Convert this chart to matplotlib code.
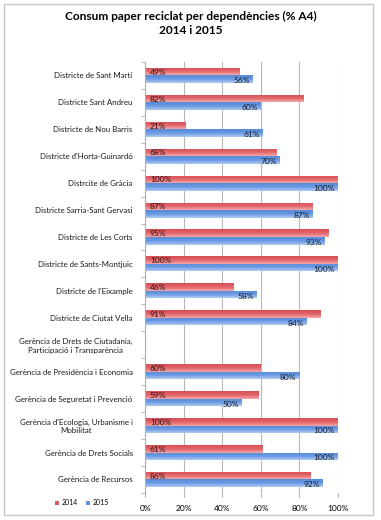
import numpy as np
import matplotlib.pyplot as plt
from matplotlib.patches import Rectangle
from matplotlib.colors import LinearSegmentedColormap

plt.rcParams['font.family'] = ['Lato', 'DejaVu Sans']

# Dades
categories = [
    "Districte de Sant Martí",
    "Districte Sant Andreu",
    "Districte de Nou Barris",
    "Districte d'Horta-Guinardó",
    "Distrcite de Gràcia",
    "Districte Sarria-Sant Gervasi",
    "Districte de Les Corts",
    "Districte de Sants-Montjuic",
    "Districte de l'Eixample",
    "Districte de Ciutat Vella",
    "Gerència de Drets de Ciutadania,\nParticipació i Transparència",
    "Gerència de Presidència i Economia",
    "Gerència de Seguretat i Prevenció",
    "Gerència d'Ecologia, Urbanisme i\nMobilitat",
    "Gerència de Drets Socials",
    "Gerència de Recursos",
]
val_2014 = [49, 82, 21, 68, 100, 87, 95, 100, 46, 91, np.nan, 60, 59, 100, 61, 86]
val_2015 = [56, 60, 61, 70, 100, 87, 93, 100, 58, 84, np.nan, 80, 50, 100, 100, 92]
xticks = [0, 20, 40, 60, 80, 100]

red = "#e05c60"
blue = "#5f92de"
red_cmap = LinearSegmentedColormap.from_list("r", ["#f4a8a8", "#e2646a", "#d84f55"])
blue_cmap = LinearSegmentedColormap.from_list("b", ["#b0cbf2", "#6a9ae2", "#558ad9"])
grad = np.linspace(0, 1, 32).reshape(-1, 1)

fig = plt.figure(figsize=(3.81, 5.2), dpi=100)
ax = fig.add_axes([0.381, 0.052, 0.506, 0.829])

n = len(categories)
y = np.arange(n)
h = 0.28

bars1 = ax.barh(y - h / 2, val_2014, height=h, color=red, label="2014")
bars2 = ax.barh(y + h / 2, val_2015, height=h, color=blue, label="2015")

# degradat dins de cada barra
for bars, cmap in [(bars1, red_cmap), (bars2, blue_cmap)]:
    for b in bars:
        w = b.get_width()
        if np.isnan(w):
            continue
        y0 = b.get_y()
        im = ax.imshow(grad, cmap=cmap, aspect="auto", interpolation="bicubic",
                       extent=(0, w, y0, y0 + h), zorder=2)
        im.set_clip_path(b)

# etiquetes de valor
for i in range(n):
    if not np.isnan(val_2014[i]):
        ax.text(2.5, y[i] - h / 2 + 0.02, f"{val_2014[i]:.0f}%", va="center", ha="left",
                fontsize=6, color="#2a1515", zorder=3)
    if not np.isnan(val_2015[i]):
        ax.text(val_2015[i] - 1.5, y[i] + h / 2 + 0.06, f"{val_2015[i]:.0f}%", va="center", ha="right",
                fontsize=6, color="#151c2a", zorder=3)

ax.set_xlim(0, 100)
ax.set_ylim(n - 0.5, -0.5)
ax.set_xticks(xticks)
ax.set_xticklabels([f"{v}%" for v in xticks], fontsize=6)
ax.set_yticks(y)
ax.set_yticklabels(categories, fontsize=5.7, multialignment="center", color="#1a1a1a")
ax.set_yticks(np.arange(-0.5, n, 1), minor=True)
ax.tick_params(axis="y", which="major", length=0, pad=9)
ax.tick_params(axis="y", which="minor", length=3, color="#b0b0b0")
ax.tick_params(axis="x", length=3, color="#b0b0b0", pad=6)
ax.xaxis.grid(True, color="#b8b8b8", linewidth=0.8)
ax.set_axisbelow(True)
for s in ["top", "right", "bottom"]:
    ax.spines[s].set_visible(False)
ax.spines["left"].set_color("#b0b0b0")

fig.text(0.5, 0.955, "Consum paper reciclat per dependències (% A4)\n2014 i 2015",
         ha="center", va="center", fontsize=8.6, fontweight="bold", linespacing=1.3)

fig.legend(handles=[bars1, bars2], loc="center", bbox_to_anchor=(0.215, 0.033), ncol=2,
           frameon=False, fontsize=5, handlelength=0.6, handleheight=0.6, columnspacing=1.2,
           handletextpad=0.3)

fig.patches.append(Rectangle((0.01, 0.01), 0.97, 0.983, transform=fig.transFigure,
                             fill=False, edgecolor="#c8c8c8", linewidth=1))

plt.savefig("out.png", dpi=100)
